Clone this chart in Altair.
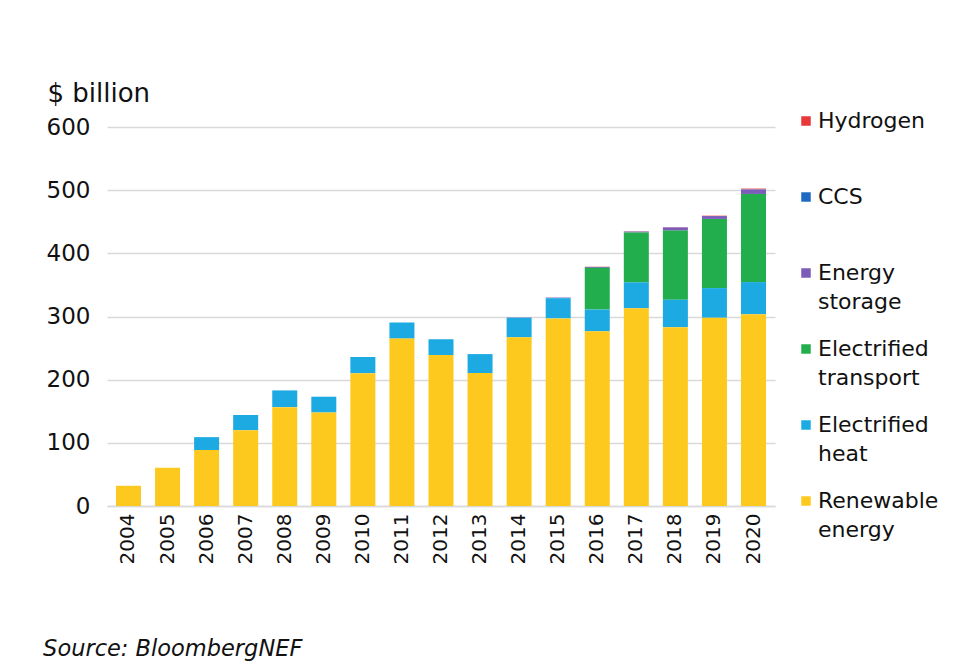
import altair as alt
import pandas as pd

years = [str(y) for y in range(2004, 2021)]
renewable = [32, 60.5, 88.5, 120, 156.5, 148, 210, 265, 239, 210.5, 267, 297, 276.5, 313, 283, 298, 303.5]
heat = [0, 0, 20.5, 24, 26.5, 25, 26, 25.5, 25, 30, 31, 32, 34.5, 41, 43.5, 47, 51]
transport = [0, 0, 0, 0, 0, 0, 0, 0, 0, 0, 0, 0, 66, 79, 109.5, 109.5, 139.5]
storage = [0, 0, 0, 0, 0, 0, 0, 0, 0, 0, 0.5, 1, 1.5, 1.5, 5, 4.5, 7]
ccs = [0, 0, 0, 0, 0, 0, 0, 0, 0, 0, 0, 0, 0, 0, 0, 0, 0.3]
hydrogen = [0, 0, 0, 0, 0, 0, 0, 0, 0, 0, 0, 0, 0.3, 0.4, 0.5, 0.6, 1.2]

series = ["Hydrogen", "CCS", "Energy storage", "Electrified transport", "Electrified heat", "Renewable energy"]
colors = ["#E8383A", "#1F6BC4", "#7B5CB8", "#22AE4C", "#1DAAE2", "#FDC91E"]
values = [hydrogen, ccs, storage, transport, heat, renewable]

rows = []
for s, vals in zip(series, values):
    for y, v in zip(years, vals):
        rows.append({"year": y, "series": s, "value": v, "ord": 5 - series.index(s)})
df = pd.DataFrame(rows)

FONT = "DejaVu Sans"

chart = alt.Chart(df).mark_bar().encode(
    x=alt.X("year:N", title=None,
            scale=alt.Scale(paddingInner=0.36, paddingOuter=0.23),
            axis=alt.Axis(labelAngle=-90, labelFontSize=20, labelPadding=7, ticks=False,
                          domain=True, domainColor="#d9d9d9", domainWidth=1.5,
                          labelColor="#111111", labelFont=FONT)),
    y=alt.Y("value:Q", stack="zero",
            scale=alt.Scale(domain=[0, 600], nice=False),
            axis=alt.Axis(values=[0, 100, 200, 300, 400, 500, 600], title="$ billion",
                          titleAngle=0, titleX=-60, titleY=-26, titleAlign="left",
                          titleBaseline="alphabetic", titleFontSize=26, titleFontWeight="normal",
                          titleFont=FONT, titleColor="#111111",
                          labelFontSize=23, labelPadding=17, labelColor="#111111", labelFont=FONT,
                          ticks=False, domain=False, gridColor="#d9d9d9", gridWidth=1.5)),
    color=alt.Color("series:N", scale=alt.Scale(domain=series, range=colors),
                    legend=alt.Legend(title=None, orient="none", legendX=688, legendY=-17,
                                      symbolType="square", symbolSize=90, symbolStrokeWidth=0,
                                      labelFontSize=22, labelFont=FONT, labelColor="#111111",
                                      labelOffset=1, rowPadding=25, labelLimit=220,
                                      labelExpr="length(split(datum.label,' '))>1 ? split(datum.label,' ') : [datum.label, ' ']")),
    order=alt.Order("ord:Q", sort="ascending"),
).properties(
    width=668, height=379,
    title=alt.TitleParams("Source: BloombergNEF", orient="bottom", anchor="start",
                          fontSize=22.5, fontStyle="italic", fontWeight="normal", font=FONT,
                          color="#111111", dx=-3, offset=74),
    padding={"left": 99, "top": 119, "right": 177, "bottom": 158},
    autosize=alt.AutoSizeParams(type="none"),
).configure(
    background="white",
    view=alt.ViewConfig(strokeWidth=0, stroke="transparent"),
    style={"guide-label": {"lineHeight": 29}},
)

chart.save("out.html", embed_options={"renderer": "svg", "actions": False})
